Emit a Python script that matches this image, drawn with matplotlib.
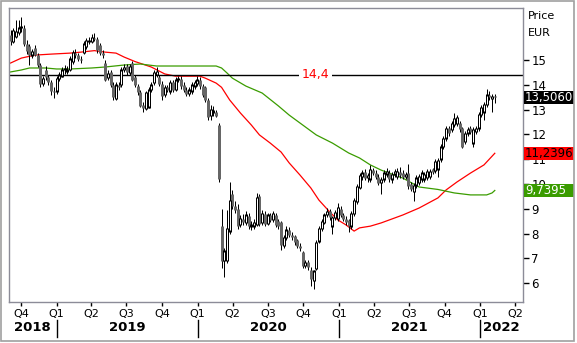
import numpy as np
import pandas as pd
import matplotlib
matplotlib.use("Agg")
import matplotlib.pyplot as plt
import matplotlib.dates as mdates
import matplotlib.transforms as mtransforms
from matplotlib.patches import Rectangle

# weekly candles, week starting 2018-09-03
start = "2018-09-03"
opens = [16.00, 15.75, 15.95, 16.10, 16.30, 16.30, 15.65, 15.55, 15.20, 15.50,
         15.20, 14.80, 14.05, 14.60, 14.30, 14.10, 13.75, 13.75, 14.25, 14.35,
         14.60, 14.55, 14.60, 14.95, 15.30, 15.20, 15.05, 15.30, 15.55, 15.75,
         15.75, 15.90, 15.85, 15.60, 15.30, 14.90, 14.30, 14.50, 14.00, 13.45,
         14.00, 14.00, 14.60, 14.75, 14.50, 14.90, 14.30, 13.95, 13.70, 13.20,
         13.05, 13.10, 13.80, 14.10, 14.40, 14.30, 14.05, 13.60, 13.90, 13.75,
         14.10, 13.80, 14.20, 14.25, 14.00, 13.80, 13.65, 13.75, 13.95, 14.05,
         14.20, 13.95, 13.90, 13.40, 12.75, 12.90, 12.90, 12.40, 8.30, 6.90,
         6.90, 8.10, 9.60, 9.10, 9.00, 8.35, 8.60, 8.45, 8.70, 8.30,
         8.30, 8.35, 9.50, 8.45, 8.80, 8.40, 8.75, 8.55, 8.75, 8.50,
         8.45, 7.50, 7.85, 8.15, 7.95, 7.90, 7.75, 7.50, 7.25, 6.70,
         6.85, 6.55, 6.10, 6.60, 7.70, 8.20, 8.45, 8.75, 8.90, 8.30,
         8.65, 8.60, 9.00, 8.75, 8.60, 8.55, 8.30, 8.80, 9.30, 9.85,
         10.30, 10.50, 10.25, 10.20, 10.55, 10.45, 10.30, 10.05, 10.20, 10.40,
         10.45, 10.20, 10.40, 10.30, 10.50, 10.45, 10.30, 10.45, 10.00, 9.70,
         9.95, 10.05, 10.20, 10.20, 10.25, 10.30, 10.60, 10.55, 10.60, 11.00,
         11.50, 11.85, 12.25, 12.20, 12.40, 12.45, 12.45, 12.25, 11.70, 12.05,
         12.25, 11.65, 12.10, 12.25, 12.80, 12.90, 13.20, 13.60, 13.45, 13.55]
highs = [16.20, 16.30, 16.60, 16.60, 16.75, 16.40, 15.80, 15.65, 15.45, 15.60,
         15.30, 14.90, 14.35, 14.75, 14.40, 14.20, 13.90, 14.35, 14.50, 14.70,
         14.80, 14.75, 15.15, 15.40, 15.45, 15.30, 15.15, 15.75, 15.90, 15.95,
         16.05, 16.10, 15.95, 15.70, 15.40, 15.00, 14.60, 14.60, 14.10, 14.10,
         14.10, 14.70, 14.85, 14.85, 14.85, 14.95, 14.40, 14.05, 13.80, 13.30,
         13.75, 13.90, 14.10, 14.60, 14.70, 14.40, 14.15, 14.00, 14.00, 14.20,
         14.20, 14.30, 14.35, 14.35, 14.10, 13.90, 13.90, 14.10, 14.20, 14.35,
         14.30, 14.05, 13.95, 13.45, 13.20, 13.15, 13.00, 12.45, 9.00, 7.40,
         8.95, 10.10, 9.75, 9.30, 9.20, 8.75, 8.80, 8.90, 8.85, 8.50,
         8.60, 9.65, 9.60, 8.95, 8.90, 8.85, 8.85, 8.90, 8.85, 8.60,
         8.50, 7.95, 8.30, 8.25, 8.05, 7.95, 7.80, 7.60, 7.30, 6.95,
         6.95, 6.65, 6.55, 7.75, 8.30, 8.60, 8.85, 9.05, 9.00, 8.70,
         8.95, 9.25, 9.10, 8.85, 8.70, 8.60, 8.90, 9.45, 10.00, 10.45,
         10.55, 10.60, 10.45, 10.75, 10.65, 10.55, 10.40, 10.30, 10.55, 10.65,
         10.55, 10.50, 10.60, 10.65, 10.70, 10.55, 10.50, 10.80, 10.10, 10.05,
         10.35, 10.40, 10.55, 10.50, 10.60, 10.60, 10.65, 11.00, 11.05, 11.60,
         11.95, 12.35, 12.35, 12.55, 12.85, 12.80, 12.55, 12.30, 12.15, 12.30,
         12.35, 12.30, 12.35, 12.90, 13.20, 13.30, 13.83, 13.75, 13.65, 13.65]
lows = [15.60, 15.70, 15.90, 16.00, 16.15, 15.55, 15.25, 14.80, 15.10, 15.15,
        14.70, 13.90, 13.95, 14.20, 14.00, 13.60, 13.45, 13.65, 14.15, 14.30,
        14.45, 14.45, 14.55, 14.85, 15.10, 14.95, 14.90, 15.25, 15.45, 15.65,
        15.70, 15.75, 15.30, 15.20, 15.10, 14.15, 14.20, 13.90, 13.40, 13.40,
        13.80, 13.90, 14.50, 14.40, 14.40, 14.15, 13.90, 13.60, 13.10, 12.90,
        13.00, 13.05, 13.70, 14.00, 14.30, 13.95, 13.40, 13.50, 13.70, 13.65,
        13.70, 13.75, 14.10, 13.85, 13.70, 13.55, 13.55, 13.65, 13.85, 13.95,
        13.85, 13.50, 13.30, 12.60, 12.60, 12.75, 12.70, 10.10, 6.60, 6.25,
        6.80, 8.00, 9.00, 8.85, 8.20, 8.25, 8.35, 8.35, 8.20, 8.15,
        8.20, 8.30, 8.30, 8.35, 8.30, 8.35, 8.45, 8.45, 8.25, 8.20,
        7.35, 7.40, 7.75, 7.85, 7.75, 7.55, 7.40, 7.30, 6.60, 6.60,
        6.55, 5.90, 5.75, 6.55, 7.60, 8.10, 8.40, 8.65, 8.55, 8.00,
        8.55, 8.50, 8.65, 8.50, 8.35, 8.05, 8.20, 8.70, 9.20, 9.80,
        10.15, 10.15, 10.10, 10.10, 10.35, 10.20, 9.95, 9.60, 10.10, 10.30,
        10.10, 10.05, 10.30, 10.20, 10.25, 10.20, 10.20, 9.80, 9.70, 9.30,
        9.85, 9.95, 10.10, 10.10, 10.15, 10.20, 10.40, 10.45, 10.30, 10.90,
        11.40, 11.75, 11.95, 12.10, 12.30, 12.35, 12.10, 11.45, 11.60, 11.95,
        12.00, 11.50, 12.00, 12.15, 12.70, 12.60, 13.10, 13.40, 12.90, 13.25]
closes = [15.75, 16.20, 16.15, 16.30, 16.35, 15.65, 15.35, 15.20, 15.35, 15.20,
          14.80, 14.05, 14.25, 14.30, 14.10, 13.75, 13.70, 14.25, 14.40, 14.60,
          14.65, 14.60, 15.05, 15.30, 15.20, 15.05, 15.00, 15.65, 15.80, 15.80,
          15.90, 15.85, 15.40, 15.30, 15.20, 14.20, 14.45, 14.00, 13.50, 14.00,
          13.90, 14.60, 14.70, 14.50, 14.75, 14.20, 14.00, 13.70, 13.15, 13.05,
          13.70, 13.80, 14.00, 14.50, 14.55, 14.05, 13.55, 13.90, 13.80, 14.10,
          13.80, 14.20, 14.25, 13.95, 13.80, 13.65, 13.80, 14.00, 14.10, 14.20,
          13.95, 13.60, 13.40, 12.70, 13.00, 12.95, 12.75, 10.20, 6.90, 7.30,
          8.20, 9.35, 9.10, 8.95, 8.30, 8.60, 8.45, 8.75, 8.30, 8.35,
          8.45, 9.45, 8.40, 8.80, 8.40, 8.75, 8.55, 8.80, 8.35, 8.30,
          7.55, 7.85, 8.15, 7.95, 7.85, 7.65, 7.50, 7.40, 6.70, 6.85,
          6.65, 6.15, 6.50, 7.65, 8.20, 8.50, 8.75, 8.90, 8.65, 8.65,
          8.85, 9.05, 8.75, 8.60, 8.45, 8.30, 8.80, 9.35, 9.90, 10.35,
          10.45, 10.25, 10.35, 10.60, 10.45, 10.30, 10.05, 10.20, 10.45, 10.50,
          10.20, 10.40, 10.50, 10.50, 10.35, 10.30, 10.40, 9.90, 9.80, 9.95,
          10.25, 10.30, 10.45, 10.40, 10.50, 10.50, 10.50, 10.90, 10.95, 11.50,
          11.85, 12.25, 12.05, 12.45, 12.65, 12.70, 12.20, 11.50, 12.05, 12.20,
          12.10, 12.20, 12.25, 12.80, 13.10, 13.20, 13.60, 13.50, 13.55, 13.506]

# moving averages, read at some weeks
red_weeks = [0, 4, 9, 15, 22, 26, 31, 35, 39, 42, 46, 52, 57, 61, 70, 72, 76, 78, 81, 85,
             89, 92, 96, 100, 103, 107, 111, 114, 118, 121, 124, 127, 129, 133, 137, 140,
             145, 151, 158, 161, 165, 170, 175, 179]
red_ma = [14.88, 15.08, 15.20, 15.24, 15.28, 15.32, 15.38, 15.32, 15.28, 15.12,
          14.94, 14.72, 14.44, 14.35, 14.35, 14.27, 14.07, 13.90, 13.39, 12.86,
          12.38, 11.98, 11.65, 11.29, 10.85, 10.36, 9.84, 9.35, 8.87, 8.55,
          8.35, 8.10, 8.23, 8.30, 8.43, 8.55, 8.75, 9.03, 9.44, 9.76,
          10.08, 10.44, 10.77, 11.2396]
green_weeks = [0, 4, 7, 13, 17, 22, 30, 35, 42, 48, 54, 76, 78, 80, 82, 87, 93, 99, 103,
               108, 113, 119, 122, 125, 129, 133, 137, 140, 145, 151, 158, 164, 170, 176,
               178, 179]
green_ma = [14.52, 14.60, 14.68, 14.68, 14.64, 14.64, 14.68, 14.72, 14.80, 14.84,
            14.76, 14.76, 14.68, 14.48, 14.27, 13.95, 13.67, 13.15, 12.78, 12.38,
            11.98, 11.65, 11.45, 11.25, 11.05, 10.77, 10.56, 10.44, 10.24, 9.88,
            9.78, 9.64, 9.56, 9.56, 9.64, 9.7395]

level = 14.4
yticks = [6, 7, 8, 9, 10, 11, 12, 13, 14, 15]
quarters = pd.date_range("2018-10-01", "2022-04-01", freq="QS")
years = [2018, 2019, 2020, 2021, 2022]

dates = pd.date_range(start, periods=len(closes), freq="7D")
xd = mdates.date2num(dates) + 1
o = np.array(opens); h = np.array(highs); l = np.array(lows); c = np.array(closes)

fig = plt.figure(figsize=(5.77, 3.43), dpi=100)
ax = fig.add_axes([9/577, 41/343, 514/577, 294/343])

x0 = mdates.date2num(pd.Timestamp("2018-10-01"))
ax.set_xlim(x0 - 31, x0 + 1299)
ax.set_ylim(5.24, 17.10)

# candles: wick, then body drawn as thick vertical strokes (3 px wide)
px = 72 / 100  # points per pixel
up = c >= o
lo_b = np.minimum(o, c)
hi_b = np.maximum(o, c)
ax.vlines(xd, l, h, color="black", lw=1 * px, zorder=3)
ax.vlines(xd[~up], lo_b[~up], hi_b[~up], color="#666666", lw=3 * px, zorder=4)
ax.vlines(xd[up], lo_b[up] - 0.02, hi_b[up] + 0.02, color="black", lw=3 * px, zorder=4)
inner = up & (hi_b - lo_b > 0.09)
ax.vlines(xd[inner], lo_b[inner] + 0.03, hi_b[inner] - 0.03, color="white",
          lw=1 * px, zorder=5)

# moving averages
ax.plot(xd[red_weeks], red_ma, color="#ff0000", lw=0.9, zorder=2)
ax.plot(xd[green_weeks], green_ma, color="#3a9c00", lw=0.9, zorder=2)

# horizontal level
ax.axhline(level, color="black", lw=1, zorder=2)
ax.text(mdates.date2num(pd.Timestamp("2020-11-01")), level, "14,4", color="red",
        fontsize=9, ha="center", va="center", zorder=5,
        bbox=dict(boxstyle="square,pad=0.25", fc="white", ec="none"))

# axes styling
for s in ax.spines.values():
    s.set_color("#8c8c98")
    s.set_linewidth(1)
ax.yaxis.tick_right()
ax.set_yticks(yticks)
ax.set_yticklabels([str(v) for v in yticks])
ax.tick_params(axis="y", direction="out", length=4, width=1, pad=2,
               labelsize=8.5, colors="black")
ax.set_xticks(mdates.date2num(quarters))
ax.set_xticklabels(["Q%d" % ((d.month - 1) // 3 + 1) for d in quarters])
ax.tick_params(axis="x", direction="out", length=3, width=1, pad=2,
               labelsize=8, colors="black")

# year row
bt = mtransforms.blended_transform_factory(ax.transData, ax.transAxes)
xmin, xmax = ax.get_xlim()
for yr in years:
    a = max(mdates.date2num(pd.Timestamp(f"{yr}-01-01")), xmin)
    b = min(mdates.date2num(pd.Timestamp(f"{yr + 1}-01-01")), xmax)
    ax.text((a + b) / 2, -0.088, str(yr), transform=bt, ha="center", va="center",
            fontsize=9.5, fontweight="bold", clip_on=False)
    if yr > 2018:
        ax.plot([a, a], [-0.061, -0.119], transform=bt, color="black", lw=1,
                clip_on=False)

# right-hand value boxes
rt = mtransforms.blended_transform_factory(ax.transAxes, ax.transData)
boxes = [(closes[-1], "black", "white"), (red_ma[-1], "#ff0000", "black"),
         (green_ma[-1], "#3a9c00", "white")]
for val, fc, tc in boxes:
    ax.add_patch(Rectangle((1.002, val - 0.26), 0.097, 0.52, transform=rt,
                           facecolor=fc, edgecolor="none", clip_on=False, zorder=6))
    ax.text(1.004, val, ("%.4f" % val).replace(".", ","), transform=rt, color=tc,
            fontsize=8.5, ha="left", va="center", clip_on=False, zorder=7)

fig.text(528/577, 1 - 16/343, "Price", fontsize=8, ha="left", va="center")
fig.text(528/577, 1 - 33/343, "EUR", fontsize=8, ha="left", va="center")

# outer border
fig.add_artist(Rectangle((1/577, 2.5/343), 573/577, 339.5/343, transform=fig.transFigure,
                         fill=False, edgecolor="#a0a0a0", lw=1.2))

fig.savefig("out.png", dpi=100)
